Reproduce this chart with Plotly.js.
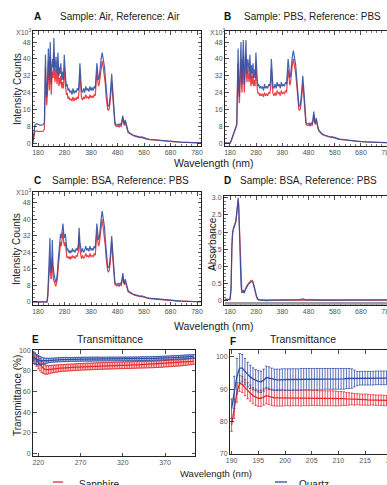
<!DOCTYPE html>
<html>
<head>
<meta charset="utf-8">
<script src="https://cdn.plot.ly/plotly-3.0.1.min.js"></script>
<style>html,body{margin:0;padding:0;overflow:hidden;background:#fff}#chart{width:400px;height:485px}</style>
</head>
<body>
<div id="chart"></div>
<script>
// ---------- Panel A: Sample Air / Reference Air (counts x10^3) ----------
const aWave = [160,164,168,175,182,190,198,204,206,208,210,213,216,219,221,223,226,228,230,232,235,237,240,242,244,246,248,250,252,255,257,259,262,264,266,268,270,273,276,279,281,284,287,290,293,296,300,304,308,312,316,320,324,328,332,335,338,341,344,348,352,356,360,364,368,372,376,380,384,388,392,396,399,402,405,408,411,414,418,422,425,428,431,434,437,440,443,446,449,452,455,458,461,464,467,470,474,478,482,486,490,494,497,500,503,506,509,512,516,520,526,532,540,548,556,565,572,580,590,600,615,630,645,660,680,700,720,740,760,780,795];
const aBlue = [0,6,8.5,9.2,8.8,8.4,8.7,9.5,24,42, 30,22,30,45,36,30,48,34,28,36, 40,36,50,38,34,38,41,35,33,43, 36,32,36,33,38,32,30,34,30,42, 34,31,27,28,25,26,24,25,23,26, 23.5,25,24,26,25,29,38,29,25,24, 26,24,27,25,26,24.5,27,25,26.5,25, 27,26,33,38,34,30,31,36,40,43, 41,38,36,31,25,20,18,17.5,18.5,22, 28,33,27,19,13,10,8.8,8.5,9,8.4, 9.2,8.6,11,13,10.5,9,11,9,7,5.5, 4.8,4.2,3.7,3.4,3.0,2.8,2.9,2.4,2.1,1.8, 1.6,1.3,1.1,0.9,0.7,0.55,0.4,0.3,0.2,0.12,0.08];
const aRed = [0,3.5,5.5,5.8,5.4,5.6,5.5,6.5,19,36, 25,18,25,39,30,25,41,28,23,30, 34,31,43,32,29,33,35,30,28,37, 31,27,31,28,32,27,26,29,26,36, 29,27,23,24,21,22,20.5,21,20,22, 20,21.5,20.5,22,21,25,33,25,21.5,20.5, 22,21,23,21.5,22,21,23,21.5,22.5,21.5, 23,22.5,29,34,30,27,28,32,36,39, 37,34,32,28,22,17.5,16,15.5,16.5,19.5, 25,29,24,17,11.5,9,8,7.8,8.2,7.6, 8.3,7.9,10,12,9.5,8.3,10,8.3,6.5,5, 4.5,3.9,3.5,3.2,2.8,2.6,2.6,2.2,1.9,1.6, 1.4,1.2,1.0,0.85,0.65,0.5,0.38,0.28,0.2,0.12,0.08];

// ---------- Panel B: Sample PBS / Reference PBS ----------
const bWave = [160,170,180,184,190,196,202,206,208,211,213,216,219,222,224,226,228,231,233,235,238,241,243,245,248,250,253,256,258,260,263,265,268,270,273,276,279,281,284,287,290,293,296,300,304,308,312,316,320,324,328,332,335,338,341,344,348,352,356,360,364,368,372,376,380,384,388,392,396,399,402,405,408,411,414,418,422,425,428,431,434,437,440,443,446,449,452,455,458,461,464,467,470,474,478,482,486,490,494,497,500,503,506,509,512,516,520,526,532,540,548,556,565,572,580,590,600,615,630,645,660,680,700,720,740,760,780,800];
const bBlue = [0,0,0,1,3.5,5.5,7.5,9,25,45, 30,22,36,48,33,28,38,49,34,28, 40,49,37,33,40,36,34,42,36,31, 37,33,38,31,35,31,43,35,30,27, 28,26,27,26,27,25,28,26,27,26, 28,27,30,40,31,27,26,28,26,29, 27,28,26,29,27,28,27,29,28,34, 40,36,31,32,37,41,44,42,39,37, 32,26,20,18,17.5,18.5,22,28,32,27, 19,13,10,9.2,9,9.5,8.8,9.6,9,11.5, 15,11,9.5,12,9.5,7.5,6,5,4.4,3.8, 3.5,3.1,2.9,3.0,2.5,2.2,1.9,1.6,1.3,1.1, 0.9,0.7,0.55,0.4,0.3,0.2,0.12,0.08];
const bRed = [0,0,0,0.8,3,5,7,8.5,21,38, 25,19,31,40,28,24,32,41,29,24, 34,42,32,29,35,31,29,36,31,27, 32,28,33,27,30,27,37,30,26,23.5, 24,22.5,23.5,22.5,23.5,22,24,22.5,23.5,22.5, 24,23.5,26,35,27,23.5,22.5,24,22.5,25, 23.5,24,22.5,25,23.5,24,23.5,25,24,30, 35,32,27.5,28.5,33,37,40,38,35,33, 29,23,17.5,16,15.5,16.5,19.5,25,28,24, 17,11.5,9,8.5,8.3,8.8,8.2,8.8,8.3,10.5, 13.5,10,8.8,11,8.8,7,5.6,4.7,4.1,3.6, 3.3,2.9,2.7,2.7,2.3,2.0,1.7,1.5,1.2,1.0, 0.85,0.65,0.5,0.38,0.28,0.2,0.12,0.08];

// ---------- Panel C: Sample BSA / Reference PBS ----------
const cWave = [160,190,214,217,220,223,225,227,229,231,234,236,238,241,244,247,250,253,256,259,262,265,268,271,274,277,280,283,286,289,292,295,298,301,304,307,310,313,316,320,324,328,332,335,338,341,344,348,352,356,360,364,368,372,376,380,384,388,392,396,399,402,405,408,411,414,418,422,425,428,431,434,437,440,443,446,449,452,455,458,461,464,467,470,474,478,482,486,490,494,497,500,503,506,509,512,516,520,526,532,540,548,556,565,572,580,590,600,615,630,645,660,680,700,720,740,760,780,795];
const cBlue = [0,0,0,4,15,20,31,18,14,16, 30,18,14,13,11,9.5,11,14,20,25, 29,33,31,34,38,33,31,33,28,25, 26,24,25,23.5,25,24,26,24.5,25,24, 26,25,28,36,29,25,24,26,24,25, 27,25,26,24.5,27,25,26,25,27,26, 33,38,34,30,31,36,40,44,41,38, 36,30,24,19,17,16.5,17.5,21,28,32, 26,18,12,9.5,8.8,8.5,9,8.4,9.2,8.6, 11,14,10.5,9,11,9,7,5.5,4.8,4.2, 3.7,3.4,3.0,2.8,2.9,2.4,2.1,1.8,1.6,1.3, 1.1,0.9,0.7,0.55,0.4,0.3,0.2,0.12,0.08];
const cRed = [0,0,0,3,12,16,21,15,11,12, 22,14,11,10,8.5,7.5,9,11.5,16.5,21, 25,29,27,30,34,29,27,29,24,21.5, 22,21,22,20.5,22,21,22.5,21.5,22,21, 22.5,22,24.5,32,25.5,22,21,22.5,21,22, 23.5,22,22.5,21.5,23.5,22,22.5,22,23.5,22.5, 29,34,30,27,28,32,36,40,37,34, 32,27,21,16.5,15,14.5,15.5,18.5,25,29, 23,16,10.5,8.5,8,7.8,8.2,7.6,8.3,7.9, 10,12.5,9.5,8.3,10,8.3,6.5,5,4.5,3.9, 3.5,3.2,2.8,2.6,2.6,2.2,1.9,1.6,1.4,1.2, 1.0,0.85,0.65,0.5,0.38,0.28,0.2,0.12,0.08];

// ---------- Panel D: Absorbance, Sample BSA / Reference PBS ----------
const dWave = [160,170,180,184,187,190,194,198,202,206,209,211,213,216,219,222,225,228,231,234,237,240,245,250,255,260,264,268,272,276,280,285,290,300,320,340,360,380,400,420,440,460,470,480,490,500,520,540,560,580,600,620,640,660,680,700,720,740,760,780,800];
const dBlue = [0.05,0.03,0.05,0.4,1.6,2.0,2.1,2.2,2.3,2.6, 2.9,3.0,2.8,2.0,1.0,0.45,0.25,0.25,0.3,0.22, 0.3,0.35,0.42,0.48,0.52,0.56,0.57,0.52,0.4,0.25, 0.12,0.05,0.03,0.02,0.01,0.02,0.01,0.02,0.03,0.02, 0.03,0.06,0.02,0.03,0.02,0.03,0.02,0.02,0.03,0.02, 0.02,0.03,0.02,0.02,0.03,0.02,0.02,0.03,0.02,0.02,0.03];
const dRed = [0.04,0.05,0.03,0.3,1.5,2.0,2.15,2.25,2.3,2.55, 2.8,2.9,2.75,2.1,1.1,0.5,0.3,0.27,0.3,0.25, 0.32,0.38,0.45,0.5,0.55,0.6,0.6,0.55,0.42,0.28, 0.13,0.06,0.03,0.03,0.02,0.03,0.02,0.03,0.02,0.03, 0.02,0.03,0.03,0.02,0.04,0.02,0.03,0.03,0.02,0.03, 0.03,0.02,0.03,0.03,0.02,0.03,0.03,0.02,0.03,0.03,0.02];
const dTickVals = [0,0.5,1,1.5,2,2.5,3];
const dTickText = ['0','0.5','1.0','1.5','2.0','2.5','3.0'];

// ---------- Panel E: Transmittance 214-404 nm ----------
const eWave = [214,216,218,220,222,224,226,228,230,232,234,236,238,240,242,244,246,248,250,252,254,256,258,260,262,264,266,268,270,272,274,276,278,280,282,284,286,288,290,292,294,296,298,300,302,304,306,308,310,312,314,316,318,320,322,324,326,328,330,332,334,336,338,340,342,344,346,348,350,352,354,356,358,360,362,364,366,368,370,372,374,376,378,380,382,384,386,388,390,392,394,396,398,400,402,404];
const eSapphire = [94,92,90,88,86,84,82.5,81.5,81,81.2, 81.5,81.8,82,82.2,82.4,82.6,82.7,82.8,83,83.1, 83.2,83.3,83.4,83.5,83.6,83.7,83.8,83.9,84,84.1, 84.1,84.2,84.3,84.3,84.4,84.5,84.5,84.6,84.7,84.7, 84.8,84.9,84.9,85,85,85.1,85.1,85.2,85.2,85.3, 85.3,85.4,85.4,85.5,85.5,85.6,85.6,85.7,85.7,85.8, 85.8,85.9,85.9,86,86,86.1,86.1,86.2,86.2,86.3, 86.3,86.4,86.5,86.5,86.6,86.7,86.8,86.9,87,87.1, 87.2,87.3,87.4,87.5,87.6,87.7,87.8,87.9,88,88.2, 88.4,88.6,88.8,89,89.2,89.4];
const eSapphireErr = [4,5,5.5,6,6,5.5,5,4.6,4.2,4, 3.8,3.7,3.6,3.5,3.5,3.4,3.4,3.3,3.3,3.3, 3.3,3.2,3.2,3.2,3.2,3.2,3.2,3.2,3.2,3.2, 3.2,3.2,3.2,3.2,3.2,3.2,3.2,3.2,3.2,3.2, 3.2,3.2,3.2,3.2,3.2,3.2,3.2,3.2,3.2,3.2, 3.2,3.2,3.2,3.2,3.2,3.2,3.2,3.2,3.2,3.2, 3.2,3.2,3.2,3.2,3.2,3.2,3.2,3.2,3.2,3.2, 3.2,3.2,3.2,3.2,3.2,3.2,3.2,3.2,3.1,3.1, 3.1,3.1,3.1,3.1,3.1,3.1,3.0,3.0,3.0,3.0, 3.0,3.0,3.0,3.0,3.0,3.0];
const eQuartz = [93,92,91,90.5,90,89.8,89.6,89.7,89.9,90.1, 90.3,90.4,90.5,90.6,90.7,90.8,90.9,91,91,91.1, 91.1,91.1,91.2,91.2,91.2,91.3,91.3,91.3,91.3,91.4, 91.4,91.4,91.4,91.4,91.4,91.5,91.5,91.5,91.5,91.5, 91.5,91.5,91.5,91.5,91.6,91.6,91.6,91.6,91.6,91.6, 91.6,91.6,91.6,91.6,91.7,91.7,91.7,91.7,91.7,91.7, 91.8,91.8,91.8,91.8,91.9,91.9,91.9,92,92,92, 92.1,92.1,92.2,92.2,92.3,92.3,92.4,92.5,92.5,92.6, 92.7,92.8,92.9,93,93,93.1,93.2,93.3,93.4,93.5, 93.6,93.7,93.8,93.9,94,94.1];
const eQuartzErr = [6,5.5,5,4.5,4,3.5,3,2.7,2.4,2.2, 2.1,2.0,2.0,2.0,2.0,2.0,2.0,2.0,2.0,2.0, 2.0,2.0,1.9,1.9,1.9,1.9,1.9,1.9,1.9,1.9, 1.9,1.9,1.9,1.9,1.9,1.9,1.9,1.9,1.9,1.9, 1.8,1.8,1.8,1.8,1.8,1.8,1.8,1.8,1.8,1.8, 1.8,1.8,1.8,1.8,1.8,1.8,1.8,1.8,1.8,1.8, 1.8,1.8,1.8,1.8,1.8,1.8,1.8,1.8,1.8,1.8, 1.8,1.8,1.8,1.8,1.8,1.8,1.8,1.8,1.8,1.8, 1.8,1.8,1.8,1.8,1.8,1.8,1.8,1.8,1.8,1.8, 1.8,1.8,1.8,1.8,1.8,1.8];

// ---------- Panel F: Transmittance 190-222 nm ----------
const fWave = [190,190.5,191,191.5,192,192.5,193,193.5,194,194.5,195,195.5,196,196.5,197,197.5,198,198.5,199,199.5,200,200.5,201,201.5,202,202.5,203,203.5,204,204.5,205,205.5,206,206.5,207,207.5,208,208.5,209,209.5,210,210.5,211,211.5,212,212.5,213,213.5,214,214.5,215,215.5,216,216.5,217,217.5,218,218.5,219,219.5,220,220.5,221,221.5,222];
const fQuartz = [84,89,94,96.5,96.5,95.5,94.5,93.8,93.2,92.8, 92.4,92.3,92.8,93.6,93.4,93.1,92.9,92.9,92.9,93, 93,93,93,93,93,93,93.1,93.1,93.1,93.1, 93.1,93.1,93.1,93.1,93.1,93.2,93.2,93.2,93.2,93.2, 93.2,93.2,93.2,93.3,93.3,93.3,93.3,93.3,93.4,93.4, 93.4,93.4,93.4,93.4,93.5,93.5,93.5,93.5,93.5,93.5, 93.5,93.5,93.5,93.5,93.5];
const fQuartzErr = [3,5,5.5,4.5,4.2,4,3.8,3.6,3.4,3.3, 3.3,3.3,3.4,3.5,3.5,3.4,3.3,3.3,3.3,3.3, 3.3,3.3,3.3,3.3,3.3,3.3,3.3,3.3,3.3,3.3, 3.3,3.3,3.3,3.3,3.3,3.2,3.2,3.2,3.2,3.2, 3.2,3.2,3.2,3.1,3.1,3.0,2.6,2.2,2.1,2.1, 2.1,2.1,2.1,2.1,2.1,2.1,2.1,2.1,2.1,2.1, 2.1,2.0,2.0,2.0,2.0];
const fSapphire = [79,84,89,91.8,91.5,90.5,89.5,88.8,88,87.5, 87.2,87.2,87.6,88,87.8,87.5,87.3,87.3,87.3,87.3, 87.3,87.3,87.2,87.3,87.3,87.3,87.2,87.3,87.3,87.3, 87.3,87.3,87.3,87.2,87.2,87.2,87.2,87.2,87.2,87.1, 87.1,87.1,87.1,87,87,87,86.9,86.9,86.8,86.8, 86.8,86.7,86.7,86.7,86.6,86.6,86.6,86.5,86.5,86.5, 86.5,86.4,86.4,86.4,86.4];
const fSapphireErr = [2,3,3,2.5,2.5,2.5,2.5,2.5,2.5,2.5, 2.5,2.5,2.5,2.5,2.5,2.5,2.5,2.5,2.5,2.5, 2.4,2.4,2.4,2.4,2.4,2.4,2.4,2.4,2.4,2.4, 2.3,2.3,2.3,2.3,2.3,2.3,2.3,2.3,2.3,2.3, 2.2,2.2,2.1,2.0,1.9,1.8,1.8,1.7,1.7,1.7, 1.7,1.7,1.6,1.6,1.6,1.6,1.6,1.6,1.6,1.6, 1.6,1.6,1.6,1.6,1.6];

const seriesNames = ['Sapphire','Quartz'];
const panelTitles = ['Sample: Air, Reference: Air','Sample: PBS, Reference: PBS','Sample: BSA, Reference: PBS','Sample: BSA, Reference: PBS','Transmittance','Transmittance'];
const panelLetters = ['A','B','C','D','E','F'];

// ---------- rendering ----------
const W = 400, H = 485;
const FONT = 'Liberation Sans, Arial, Helvetica, sans-serif';
const RED = '#e8262b', BLUE = '#2c4ea3';
const px = x => x / W;
const py = y => 1 - y / H;

function spec(x, y, color, ax) {
  const n = Math.min(x.length, y.length);
  return {x: x.slice(0, n), y: y.slice(0, n), type: 'scatter', mode: 'lines', xaxis: 'x' + ax, yaxis: 'y' + ax,
          line: {color: color, width: 1.2}, opacity: 0.88, hoverinfo: 'skip'};
}
function errTrace(x, y, e, color, ax) {
  const n = Math.min(x.length, y.length, e.length);
  return {x: x.slice(0, n), y: y.slice(0, n), type: 'scatter', mode: 'lines', xaxis: 'x' + ax, yaxis: 'y' + ax,
          line: {color: color, width: 1.3},
          error_y: {type: 'data', array: e.slice(0, n), visible: true, color: color, thickness: 0.8, width: 1.2},
          hoverinfo: 'skip'};
}

const traces = [
  spec(aWave, aRed, RED, ''), spec(aWave, aBlue, BLUE, ''),
  spec(bWave, bRed, RED, '2'), spec(bWave, bBlue, BLUE, '2'),
  spec(cWave, cRed, RED, '3'), spec(cWave, cBlue, BLUE, '3'),
  spec(dWave, dRed, RED, '4'), spec(dWave, dBlue, BLUE, '4'),
  errTrace(eWave, eSapphire, eSapphireErr, RED, '5'), errTrace(eWave, eQuartz, eQuartzErr, BLUE, '5'),
  errTrace(fWave, fSapphire, fSapphireErr, RED, '6'), errTrace(fWave, fQuartz, fQuartzErr, BLUE, '6')
];
traces[8].name = seriesNames[0]; traces[9].name = seriesNames[1];

function axis(o, minorDtick) {
  const a = Object.assign({
    showline: true, linecolor: '#222', linewidth: 1, mirror: 'allticks',
    ticks: 'inside', ticklen: 3.5, tickwidth: 0.8, tickcolor: '#222',
    showgrid: false, zeroline: false, fixedrange: true,
    tickfont: {family: FONT, size: 7, color: '#555'}
  }, o);
  if (minorDtick) a.minor = {ticks: 'inside', ticklen: 1.8, tickwidth: 0.6, tickcolor: '#222', dtick: minorDtick, showgrid: false};
  return a;
}

const layout = {
  width: W, height: H, margin: {l: 0, r: 0, t: 0, b: 0},
  paper_bgcolor: '#fff', plot_bgcolor: '#fff', showlegend: false,
  font: {family: FONT, color: '#222'},
  xaxis:  axis({domain: [px(33), px(201)], range: [161, 795], tick0: 180, dtick: 100, anchor: 'y'}, 20),
  yaxis:  axis({domain: [py(146), py(31)], range: [-1.4, 53.3], tick0: 0, dtick: 8, anchor: 'x'}, 2),
  xaxis2: axis({domain: [px(225), px(395)], range: [161, 810], tick0: 180, dtick: 100, anchor: 'y2'}, 20),
  yaxis2: axis({domain: [py(146), py(31)], range: [-1.4, 53.3], tick0: 0, dtick: 8, anchor: 'x2'}, 2),
  xaxis3: axis({domain: [px(33), px(201)], range: [161, 795], tick0: 180, dtick: 100, anchor: 'y3'}, 20),
  yaxis3: axis({domain: [py(305), py(192)], range: [-1.5, 53.3], tick0: 0, dtick: 8, anchor: 'x3'}, 2),
  xaxis4: axis({domain: [px(224), px(395)], range: [157, 810], tick0: 180, dtick: 100, anchor: 'y4'}, 20),
  yaxis4: axis({domain: [py(305), py(196)], range: [-0.12, 3.05], tickmode: 'array', tickvals: dTickVals, ticktext: dTickText, anchor: 'x4'}, 0.1),
  xaxis5: axis({domain: [px(33), px(195)], range: [213.7, 405.5], tick0: 220, dtick: 50, anchor: 'y5'}),
  yaxis5: axis({domain: [py(456), py(350)], range: [-2.4, 100.3], tick0: 0, dtick: 20, anchor: 'x5'}),
  xaxis6: axis({domain: [px(230), px(395)], range: [189.7, 220.6], tick0: 190, dtick: 5, anchor: 'y6'}),
  yaxis6: axis({domain: [py(454), py(350)], range: [70, 102.1], tick0: 70, dtick: 10, anchor: 'x6'}),
  shapes: [
    {type: 'rect', xref: 'x4 domain', yref: 'y4', x0: 0.005, x1: 1, y0: -0.11, y1: -0.035, fillcolor: '#9c9c9c', line: {width: 0}},
    {type: 'line', xref: 'paper', yref: 'paper', x0: px(53), x1: px(63), y0: py(482), y1: py(482), line: {color: RED, width: 1.3}},
    {type: 'line', xref: 'paper', yref: 'paper', x0: px(275), x1: px(287), y0: py(482), y1: py(482), line: {color: BLUE, width: 1.3}}
  ],
  annotations: []
};

function ann(text, x, y, o) {
  layout.annotations.push(Object.assign({
    text: text, xref: 'paper', yref: 'paper', x: px(x), y: py(y), showarrow: false,
    xanchor: 'center', yanchor: 'middle', font: {family: FONT, size: 10, color: '#222'}
  }, o || {}));
}

const letterPos = [[37,17],[228,17],[37,180],[228,180],[35,339],[233,341]];
const titlePos = [[120,17],[312,17],[120,180],[308,180],[110,339],[303,339]];
for (let i = 0; i < 6; i++) {
  ann('<b>' + panelLetters[i] + '</b>', letterPos[i][0], letterPos[i][1], {font: {family: FONT, size: 10, color: '#111'}});
  ann(panelTitles[i], titlePos[i][0], titlePos[i][1], {font: {family: FONT, size: i >= 4 ? 10.5 : 10, color: '#222'}});
}
const expFont = {family: FONT, size: 7, color: '#555'};
ann('X10<sup>3</sup>', 23, 32, {font: expFont});
ann('X10<sup>3</sup>', 217, 32, {font: expFont});
ann('X10<sup>3</sup>', 23, 192, {font: expFont});

ann('Wavelength (nm)', 214, 163, {font: {family: FONT, size: 10.5, color: '#222'}});
ann('Wavelength (nm)', 214, 326, {font: {family: FONT, size: 10.5, color: '#222'}});
ann('Wavelength (nm)', 216, 473, {font: {family: FONT, size: 9.5, color: '#222'}});

ann('Intensity Counts', 17, 89, {textangle: -90});
ann('Intensity Counts', 17, 249, {textangle: -90});
ann('Absorbance', 212, 244, {textangle: -90});
ann('Transmittance (%)', 17, 396, {textangle: -90});

ann(seriesNames[0], 77, 484, {xanchor: 'left'});
ann(seriesNames[1], 297, 484, {xanchor: 'left'});

Plotly.newPlot('chart', traces, layout, {staticPlot: true, displayModeBar: false});
</script>
</body>
</html>
